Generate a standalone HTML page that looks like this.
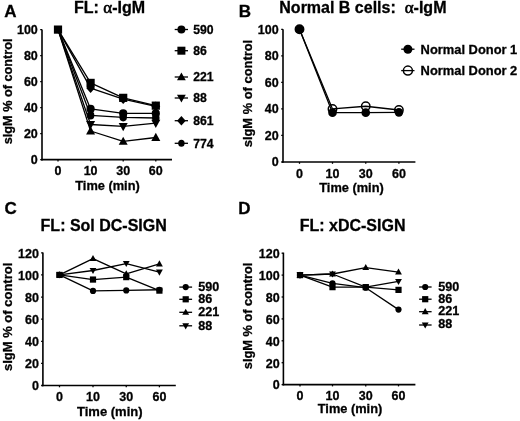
<!DOCTYPE html>
<html><head><meta charset="utf-8"><style>
html,body{margin:0;padding:0;background:#fff;}
svg{display:block;will-change:transform;font-family:"Liberation Sans", sans-serif;font-weight:bold;fill:#000;}
text{stroke:#000;stroke-width:0.3px;}
</style></head><body>
<svg width="520" height="421" viewBox="0 0 520 421">
<text x="4.3" y="16.8" font-size="17" text-anchor="start" >A</text>
<text x="109.6" y="13.3" font-size="16" text-anchor="middle" >FL: <tspan font-family="Liberation Serif" font-weight="normal" font-size="17" style="stroke-width:0.6px">α</tspan>-IgM</text>
<line x1="42" y1="29.4" x2="42" y2="160.4" stroke="#000" stroke-width="1.6"/>
<line x1="41.2" y1="159.6" x2="172" y2="159.6" stroke="#000" stroke-width="1.6"/>
<line x1="40.2" y1="29.599999999999994" x2="42" y2="29.599999999999994" stroke="#000" stroke-width="1.2800000000000002"/>
<text x="37.8" y="33.89999999999999" font-size="12.5" text-anchor="end" >100</text>
<line x1="40.2" y1="55.599999999999994" x2="42" y2="55.599999999999994" stroke="#000" stroke-width="1.2800000000000002"/>
<text x="37.8" y="59.89999999999999" font-size="12.5" text-anchor="end" >80</text>
<line x1="40.2" y1="81.6" x2="42" y2="81.6" stroke="#000" stroke-width="1.2800000000000002"/>
<text x="37.8" y="85.89999999999999" font-size="12.5" text-anchor="end" >60</text>
<line x1="40.2" y1="107.6" x2="42" y2="107.6" stroke="#000" stroke-width="1.2800000000000002"/>
<text x="37.8" y="111.89999999999999" font-size="12.5" text-anchor="end" >40</text>
<line x1="40.2" y1="133.6" x2="42" y2="133.6" stroke="#000" stroke-width="1.2800000000000002"/>
<text x="37.8" y="137.9" font-size="12.5" text-anchor="end" >20</text>
<line x1="40.2" y1="159.6" x2="42" y2="159.6" stroke="#000" stroke-width="1.2800000000000002"/>
<text x="37.8" y="163.9" font-size="12.5" text-anchor="end" >0</text>
<line x1="58" y1="159.6" x2="58" y2="161.4" stroke="#000" stroke-width="1.2800000000000002"/>
<text x="58" y="175.3" font-size="12.5" text-anchor="middle" >0</text>
<line x1="90.6" y1="159.6" x2="90.6" y2="161.4" stroke="#000" stroke-width="1.2800000000000002"/>
<text x="90.6" y="175.3" font-size="12.5" text-anchor="middle" >10</text>
<line x1="123.2" y1="159.6" x2="123.2" y2="161.4" stroke="#000" stroke-width="1.2800000000000002"/>
<text x="123.2" y="175.3" font-size="12.5" text-anchor="middle" >30</text>
<line x1="155.8" y1="159.6" x2="155.8" y2="161.4" stroke="#000" stroke-width="1.2800000000000002"/>
<text x="155.8" y="175.3" font-size="12.5" text-anchor="middle" >60</text>
<text x="107.5" y="190.3" font-size="12.8" text-anchor="middle" >Time (min)</text>
<text transform="translate(11.6,91.35) rotate(-90)" font-size="12.7" text-anchor="middle">sIgM % of control</text>
<polyline points="58.00,29.60 90.60,131.00 123.20,141.40 155.80,137.50" fill="none" stroke="#000" stroke-width="1.3" stroke-linejoin="round"/>
<polyline points="58.00,29.60 90.60,124.50 123.20,126.45 155.80,123.20" fill="none" stroke="#000" stroke-width="1.3" stroke-linejoin="round"/>
<polyline points="58.00,29.60 90.60,115.40 123.20,117.35 155.80,118.00" fill="none" stroke="#000" stroke-width="1.3" stroke-linejoin="round"/>
<polyline points="58.00,29.60 90.60,108.90 123.20,113.45 155.80,113.45" fill="none" stroke="#000" stroke-width="1.3" stroke-linejoin="round"/>
<polyline points="58.00,29.60 90.60,88.10 123.20,99.15 155.80,106.30" fill="none" stroke="#000" stroke-width="1.3" stroke-linejoin="round"/>
<polyline points="58.00,29.60 90.60,82.90 123.20,97.85 155.80,105.65" fill="none" stroke="#000" stroke-width="1.3" stroke-linejoin="round"/>
<polygon points="90.60,126.26 95.11,134.38 86.09,134.38" fill="#000"/>
<polygon points="123.20,136.66 127.71,144.78 118.69,144.78" fill="#000"/>
<polygon points="155.80,132.76 160.31,140.88 151.29,140.88" fill="#000"/>
<polygon points="90.60,129.24 95.11,121.12 86.09,121.12" fill="#000"/>
<polygon points="123.20,131.19 127.71,123.07 118.69,123.07" fill="#000"/>
<polygon points="155.80,127.94 160.31,119.82 151.29,119.82" fill="#000"/>
<ellipse cx="90.60" cy="115.40" rx="3.77" ry="4.10" fill="#000"/>
<ellipse cx="123.20" cy="117.35" rx="3.77" ry="4.10" fill="#000"/>
<ellipse cx="155.80" cy="118.00" rx="3.77" ry="4.10" fill="#000"/>
<circle cx="90.60" cy="108.90" r="4.10" fill="#000"/>
<circle cx="123.20" cy="113.45" r="4.10" fill="#000"/>
<circle cx="155.80" cy="113.45" r="4.10" fill="#000"/>
<polygon points="90.60,83.18 95.03,88.10 90.60,93.02 86.17,88.10" fill="#000"/>
<polygon points="123.20,94.23 127.63,99.15 123.20,104.07 118.77,99.15" fill="#000"/>
<polygon points="155.80,101.38 160.23,106.30 155.80,111.22 151.37,106.30" fill="#000"/>
<rect x="53.90" y="25.50" width="8.20" height="8.20" fill="#000"/>
<rect x="86.50" y="78.80" width="8.20" height="8.20" fill="#000"/>
<rect x="119.10" y="93.75" width="8.20" height="8.20" fill="#000"/>
<rect x="151.70" y="101.55" width="8.20" height="8.20" fill="#000"/>
<line x1="174.7" y1="29.5" x2="188" y2="29.5" stroke="#000" stroke-width="1.3"/>
<circle cx="181.40" cy="29.50" r="4.00" fill="#000"/>
<text x="193.3" y="33.8" font-size="12.2" text-anchor="start" >590</text>
<line x1="174.7" y1="50.7" x2="188" y2="50.7" stroke="#000" stroke-width="1.3"/>
<rect x="177.40" y="46.70" width="8.00" height="8.00" fill="#000"/>
<text x="193.3" y="55.0" font-size="12.2" text-anchor="start" >86</text>
<line x1="174.7" y1="77.0" x2="188" y2="77.0" stroke="#000" stroke-width="1.3"/>
<polygon points="181.40,72.38 185.80,80.30 177.00,80.30" fill="#000"/>
<text x="193.3" y="81.3" font-size="12.2" text-anchor="start" >221</text>
<line x1="174.7" y1="98.0" x2="188" y2="98.0" stroke="#000" stroke-width="1.3"/>
<polygon points="181.40,102.62 185.80,94.70 177.00,94.70" fill="#000"/>
<text x="193.3" y="102.3" font-size="12.2" text-anchor="start" >88</text>
<line x1="174.7" y1="120.7" x2="188" y2="120.7" stroke="#000" stroke-width="1.3"/>
<polygon points="181.40,115.90 185.72,120.70 181.40,125.50 177.08,120.70" fill="#000"/>
<text x="193.3" y="125.0" font-size="12.2" text-anchor="start" >861</text>
<line x1="174.7" y1="143.3" x2="188" y2="143.3" stroke="#000" stroke-width="1.3"/>
<ellipse cx="181.40" cy="143.30" rx="3.22" ry="3.50" fill="#000"/>
<text x="193.3" y="147.60000000000002" font-size="12.2" text-anchor="start" >774</text>
<text x="238.7" y="16.8" font-size="17" text-anchor="start" >B</text>
<text x="279.3" y="13.4" font-size="16" text-anchor="start" >Normal B cells:&#160; <tspan font-family="Liberation Serif" font-weight="normal" font-size="17" style="stroke-width:0.6px">α</tspan>-IgM</text>
<line x1="283" y1="29.2" x2="283" y2="162.8" stroke="#000" stroke-width="1.6"/>
<line x1="282.2" y1="162" x2="415.4" y2="162" stroke="#000" stroke-width="1.6"/>
<line x1="281.2" y1="29.30000000000001" x2="283" y2="29.30000000000001" stroke="#000" stroke-width="1.2800000000000002"/>
<text x="278.6" y="33.60000000000001" font-size="12.5" text-anchor="end" >100</text>
<line x1="281.2" y1="55.84" x2="283" y2="55.84" stroke="#000" stroke-width="1.2800000000000002"/>
<text x="278.6" y="60.14" font-size="12.5" text-anchor="end" >80</text>
<line x1="281.2" y1="82.38" x2="283" y2="82.38" stroke="#000" stroke-width="1.2800000000000002"/>
<text x="278.6" y="86.67999999999999" font-size="12.5" text-anchor="end" >60</text>
<line x1="281.2" y1="108.92" x2="283" y2="108.92" stroke="#000" stroke-width="1.2800000000000002"/>
<text x="278.6" y="113.22" font-size="12.5" text-anchor="end" >40</text>
<line x1="281.2" y1="135.46" x2="283" y2="135.46" stroke="#000" stroke-width="1.2800000000000002"/>
<text x="278.6" y="139.76000000000002" font-size="12.5" text-anchor="end" >20</text>
<line x1="281.2" y1="162.0" x2="283" y2="162.0" stroke="#000" stroke-width="1.2800000000000002"/>
<text x="278.6" y="166.3" font-size="12.5" text-anchor="end" >0</text>
<line x1="299.5" y1="162" x2="299.5" y2="163.8" stroke="#000" stroke-width="1.2800000000000002"/>
<text x="299.5" y="177.6" font-size="12.5" text-anchor="middle" >0</text>
<line x1="332.5" y1="162" x2="332.5" y2="163.8" stroke="#000" stroke-width="1.2800000000000002"/>
<text x="332.5" y="177.6" font-size="12.5" text-anchor="middle" >10</text>
<line x1="365.75" y1="162" x2="365.75" y2="163.8" stroke="#000" stroke-width="1.2800000000000002"/>
<text x="365.75" y="177.6" font-size="12.5" text-anchor="middle" >30</text>
<line x1="398.9" y1="162" x2="398.9" y2="163.8" stroke="#000" stroke-width="1.2800000000000002"/>
<text x="398.9" y="177.6" font-size="12.5" text-anchor="middle" >60</text>
<text x="351.5" y="192.1" font-size="12.8" text-anchor="middle" >Time (min)</text>
<text transform="translate(252.4,93.55) rotate(-90)" font-size="12.9" text-anchor="middle">sIgM % of control</text>
<polyline points="299.50,29.30 332.50,108.92 365.75,106.27 398.90,109.98" fill="none" stroke="#000" stroke-width="1.3" stroke-linejoin="round"/>
<polyline points="299.50,29.30 332.50,112.64 365.75,112.64 398.90,112.37" fill="none" stroke="#000" stroke-width="1.3" stroke-linejoin="round"/>
<circle cx="299.50" cy="29.30" r="4.20" fill="none" stroke="#000" stroke-width="1.5"/>
<circle cx="332.50" cy="108.92" r="4.20" fill="none" stroke="#000" stroke-width="1.5"/>
<circle cx="365.75" cy="106.27" r="4.20" fill="none" stroke="#000" stroke-width="1.5"/>
<circle cx="398.90" cy="109.98" r="4.20" fill="none" stroke="#000" stroke-width="1.5"/>
<circle cx="299.50" cy="29.30" r="4.30" fill="#000"/>
<circle cx="332.50" cy="112.64" r="4.30" fill="#000"/>
<circle cx="365.75" cy="112.64" r="4.30" fill="#000"/>
<circle cx="398.90" cy="112.37" r="4.30" fill="#000"/>
<line x1="401.2" y1="49.2" x2="414.5" y2="49.2" stroke="#000" stroke-width="1.3"/>
<circle cx="407.90" cy="49.20" r="4.50" fill="#000"/>
<text x="420.6" y="53.7" font-size="12.9" text-anchor="start" >Normal Donor 1</text>
<line x1="401.2" y1="70.6" x2="414.5" y2="70.6" stroke="#000" stroke-width="1.3"/>
<circle cx="407.90" cy="70.60" r="4.50" fill="none" stroke="#000" stroke-width="1.5"/>
<text x="420.6" y="75.1" font-size="12.9" text-anchor="start" >Normal Donor 2</text>
<text x="4.5" y="213.8" font-size="17" text-anchor="start" >C</text>
<text x="103.7" y="230.7" font-size="16" text-anchor="middle" >FL: Sol DC-SIGN</text>
<line x1="42.9" y1="252.6" x2="42.9" y2="386.3" stroke="#000" stroke-width="1.6"/>
<line x1="42.1" y1="385.5" x2="175.8" y2="385.5" stroke="#000" stroke-width="1.6"/>
<line x1="41.1" y1="252.804" x2="42.9" y2="252.804" stroke="#000" stroke-width="1.2800000000000002"/>
<text x="38.9" y="257.604" font-size="12.5" text-anchor="end" >120</text>
<line x1="41.1" y1="274.92" x2="42.9" y2="274.92" stroke="#000" stroke-width="1.2800000000000002"/>
<text x="38.9" y="279.72" font-size="12.5" text-anchor="end" >100</text>
<line x1="41.1" y1="297.036" x2="42.9" y2="297.036" stroke="#000" stroke-width="1.2800000000000002"/>
<text x="38.9" y="301.836" font-size="12.5" text-anchor="end" >80</text>
<line x1="41.1" y1="319.152" x2="42.9" y2="319.152" stroke="#000" stroke-width="1.2800000000000002"/>
<text x="38.9" y="323.952" font-size="12.5" text-anchor="end" >60</text>
<line x1="41.1" y1="341.26800000000003" x2="42.9" y2="341.26800000000003" stroke="#000" stroke-width="1.2800000000000002"/>
<text x="38.9" y="346.06800000000004" font-size="12.5" text-anchor="end" >40</text>
<line x1="41.1" y1="363.384" x2="42.9" y2="363.384" stroke="#000" stroke-width="1.2800000000000002"/>
<text x="38.9" y="368.184" font-size="12.5" text-anchor="end" >20</text>
<line x1="41.1" y1="385.5" x2="42.9" y2="385.5" stroke="#000" stroke-width="1.2800000000000002"/>
<text x="38.9" y="390.3" font-size="12.5" text-anchor="end" >0</text>
<line x1="59.5" y1="385.5" x2="59.5" y2="387.3" stroke="#000" stroke-width="1.2800000000000002"/>
<text x="59.5" y="401.3" font-size="12.5" text-anchor="middle" >0</text>
<line x1="93" y1="385.5" x2="93" y2="387.3" stroke="#000" stroke-width="1.2800000000000002"/>
<text x="93" y="401.3" font-size="12.5" text-anchor="middle" >10</text>
<line x1="126.25" y1="385.5" x2="126.25" y2="387.3" stroke="#000" stroke-width="1.2800000000000002"/>
<text x="126.25" y="401.3" font-size="12.5" text-anchor="middle" >30</text>
<line x1="159.4" y1="385.5" x2="159.4" y2="387.3" stroke="#000" stroke-width="1.2800000000000002"/>
<text x="159.4" y="401.3" font-size="12.5" text-anchor="middle" >60</text>
<text x="109.8" y="415.8" font-size="13" text-anchor="middle" >Time (min)</text>
<text transform="translate(11.5,316.9) rotate(-90)" font-size="13" text-anchor="middle">sIgM % of control</text>
<polyline points="59.50,274.92 93.00,279.56 126.25,277.13 159.40,290.62" fill="none" stroke="#000" stroke-width="1.3" stroke-linejoin="round"/>
<polyline points="59.50,274.92 93.00,290.95 126.25,290.40 159.40,289.74" fill="none" stroke="#000" stroke-width="1.3" stroke-linejoin="round"/>
<polyline points="59.50,274.92 93.00,258.55 126.25,273.81 159.40,263.86" fill="none" stroke="#000" stroke-width="1.3" stroke-linejoin="round"/>
<polyline points="59.50,274.92 93.00,270.50 126.25,263.53 159.40,272.16" fill="none" stroke="#000" stroke-width="1.3" stroke-linejoin="round"/>
<rect x="56.40" y="271.82" width="6.20" height="6.20" fill="#000"/>
<rect x="89.90" y="276.46" width="6.20" height="6.20" fill="#000"/>
<rect x="123.15" y="274.03" width="6.20" height="6.20" fill="#000"/>
<rect x="156.30" y="287.52" width="6.20" height="6.20" fill="#000"/>
<circle cx="59.50" cy="274.92" r="3.10" fill="#000"/>
<circle cx="93.00" cy="290.95" r="3.10" fill="#000"/>
<circle cx="126.25" cy="290.40" r="3.10" fill="#000"/>
<circle cx="159.40" cy="289.74" r="3.10" fill="#000"/>
<polygon points="59.50,271.34 62.91,277.48 56.09,277.48" fill="#000"/>
<polygon points="93.00,254.97 96.41,261.11 89.59,261.11" fill="#000"/>
<polygon points="126.25,270.23 129.66,276.37 122.84,276.37" fill="#000"/>
<polygon points="159.40,260.28 162.81,266.42 155.99,266.42" fill="#000"/>
<polygon points="59.50,278.50 62.91,272.36 56.09,272.36" fill="#000"/>
<polygon points="93.00,274.08 96.41,267.94 89.59,267.94" fill="#000"/>
<polygon points="126.25,267.11 129.66,260.97 122.84,260.97" fill="#000"/>
<polygon points="159.40,275.74 162.81,269.60 155.99,269.60" fill="#000"/>
<line x1="179.3" y1="287.1" x2="192.1" y2="287.1" stroke="#000" stroke-width="1.3"/>
<circle cx="185.70" cy="287.10" r="3.10" fill="#000"/>
<text x="198.2" y="291.1" font-size="12.6" text-anchor="start" >590</text>
<line x1="179.3" y1="299.3" x2="192.1" y2="299.3" stroke="#000" stroke-width="1.3"/>
<rect x="182.60" y="296.20" width="6.20" height="6.20" fill="#000"/>
<text x="198.2" y="303.3" font-size="12.6" text-anchor="start" >86</text>
<line x1="179.3" y1="312.3" x2="192.1" y2="312.3" stroke="#000" stroke-width="1.3"/>
<polygon points="185.70,308.72 189.11,314.86 182.29,314.86" fill="#000"/>
<text x="198.2" y="316.1" font-size="12.6" text-anchor="start" >221</text>
<line x1="179.3" y1="325.8" x2="192.1" y2="325.8" stroke="#000" stroke-width="1.3"/>
<polygon points="185.70,329.38 189.11,323.24 182.29,323.24" fill="#000"/>
<text x="198.2" y="329.7" font-size="12.6" text-anchor="start" >88</text>
<text x="238.2" y="213.8" font-size="17" text-anchor="start" >D</text>
<text x="352.6" y="231.0" font-size="16" text-anchor="middle" >FL: xDC-SIGN</text>
<line x1="283.4" y1="252.6" x2="283.4" y2="385.40000000000003" stroke="#000" stroke-width="1.6"/>
<line x1="282.59999999999997" y1="384.6" x2="415.4" y2="384.6" stroke="#000" stroke-width="1.6"/>
<line x1="281.59999999999997" y1="253.20000000000002" x2="283.4" y2="253.20000000000002" stroke="#000" stroke-width="1.2800000000000002"/>
<text x="279.7" y="258.0" font-size="12.5" text-anchor="end" >120</text>
<line x1="281.59999999999997" y1="275.1" x2="283.4" y2="275.1" stroke="#000" stroke-width="1.2800000000000002"/>
<text x="279.7" y="279.90000000000003" font-size="12.5" text-anchor="end" >100</text>
<line x1="281.59999999999997" y1="297.0" x2="283.4" y2="297.0" stroke="#000" stroke-width="1.2800000000000002"/>
<text x="279.7" y="301.8" font-size="12.5" text-anchor="end" >80</text>
<line x1="281.59999999999997" y1="318.90000000000003" x2="283.4" y2="318.90000000000003" stroke="#000" stroke-width="1.2800000000000002"/>
<text x="279.7" y="323.70000000000005" font-size="12.5" text-anchor="end" >60</text>
<line x1="281.59999999999997" y1="340.8" x2="283.4" y2="340.8" stroke="#000" stroke-width="1.2800000000000002"/>
<text x="279.7" y="345.6" font-size="12.5" text-anchor="end" >40</text>
<line x1="281.59999999999997" y1="362.70000000000005" x2="283.4" y2="362.70000000000005" stroke="#000" stroke-width="1.2800000000000002"/>
<text x="279.7" y="367.50000000000006" font-size="12.5" text-anchor="end" >20</text>
<line x1="281.59999999999997" y1="384.6" x2="283.4" y2="384.6" stroke="#000" stroke-width="1.2800000000000002"/>
<text x="279.7" y="389.40000000000003" font-size="12.5" text-anchor="end" >0</text>
<line x1="300" y1="384.6" x2="300" y2="386.40000000000003" stroke="#000" stroke-width="1.2800000000000002"/>
<text x="300" y="400.0" font-size="12.5" text-anchor="middle" >0</text>
<line x1="332.5" y1="384.6" x2="332.5" y2="386.40000000000003" stroke="#000" stroke-width="1.2800000000000002"/>
<text x="332.5" y="400.0" font-size="12.5" text-anchor="middle" >10</text>
<line x1="365.75" y1="384.6" x2="365.75" y2="386.40000000000003" stroke="#000" stroke-width="1.2800000000000002"/>
<text x="365.75" y="400.0" font-size="12.5" text-anchor="middle" >30</text>
<line x1="398.5" y1="384.6" x2="398.5" y2="386.40000000000003" stroke="#000" stroke-width="1.2800000000000002"/>
<text x="398.5" y="400.0" font-size="12.5" text-anchor="middle" >60</text>
<text x="350.0" y="413.4" font-size="12.8" text-anchor="middle" >Time (min)</text>
<text transform="translate(252.1,315.9) rotate(-90)" font-size="12.8" text-anchor="middle">sIgM % of control</text>
<polyline points="300.00,275.10 332.50,283.31 365.75,287.69 398.50,309.59" fill="none" stroke="#000" stroke-width="1.3" stroke-linejoin="round"/>
<polyline points="300.00,275.10 332.50,287.15 365.75,287.15 398.50,289.88" fill="none" stroke="#000" stroke-width="1.3" stroke-linejoin="round"/>
<polyline points="300.00,275.10 332.50,274.00 365.75,267.54 398.50,272.03" fill="none" stroke="#000" stroke-width="1.3" stroke-linejoin="round"/>
<polyline points="300.00,275.10 332.50,274.00 365.75,287.15 398.50,281.45" fill="none" stroke="#000" stroke-width="1.3" stroke-linejoin="round"/>
<circle cx="300.00" cy="275.10" r="3.10" fill="#000"/>
<circle cx="332.50" cy="283.31" r="3.10" fill="#000"/>
<circle cx="365.75" cy="287.69" r="3.10" fill="#000"/>
<circle cx="398.50" cy="309.59" r="3.10" fill="#000"/>
<rect x="296.90" y="272.00" width="6.20" height="6.20" fill="#000"/>
<rect x="329.40" y="284.05" width="6.20" height="6.20" fill="#000"/>
<rect x="362.65" y="284.05" width="6.20" height="6.20" fill="#000"/>
<rect x="395.40" y="286.78" width="6.20" height="6.20" fill="#000"/>
<polygon points="300.00,271.52 303.41,277.66 296.59,277.66" fill="#000"/>
<polygon points="332.50,270.42 335.91,276.56 329.09,276.56" fill="#000"/>
<polygon points="365.75,263.96 369.16,270.10 362.34,270.10" fill="#000"/>
<polygon points="398.50,268.45 401.91,274.59 395.09,274.59" fill="#000"/>
<polygon points="300.00,278.68 303.41,272.54 296.59,272.54" fill="#000"/>
<polygon points="332.50,277.59 335.91,271.45 329.09,271.45" fill="#000"/>
<polygon points="365.75,290.73 369.16,284.59 362.34,284.59" fill="#000"/>
<polygon points="398.50,285.03 401.91,278.89 395.09,278.89" fill="#000"/>
<line x1="419.1" y1="287.0" x2="431.6" y2="287.0" stroke="#000" stroke-width="1.3"/>
<circle cx="425.20" cy="287.00" r="3.10" fill="#000"/>
<text x="438.2" y="291.2" font-size="12.6" text-anchor="start" >590</text>
<line x1="419.1" y1="299.2" x2="431.6" y2="299.2" stroke="#000" stroke-width="1.3"/>
<rect x="422.10" y="296.10" width="6.20" height="6.20" fill="#000"/>
<text x="438.2" y="302.9" font-size="12.6" text-anchor="start" >86</text>
<line x1="419.1" y1="311.7" x2="431.6" y2="311.7" stroke="#000" stroke-width="1.3"/>
<polygon points="425.20,308.12 428.61,314.26 421.79,314.26" fill="#000"/>
<text x="438.2" y="315.2" font-size="12.6" text-anchor="start" >221</text>
<line x1="419.1" y1="325.0" x2="431.6" y2="325.0" stroke="#000" stroke-width="1.3"/>
<polygon points="425.20,328.58 428.61,322.44 421.79,322.44" fill="#000"/>
<text x="438.2" y="328.0" font-size="12.6" text-anchor="start" >88</text>
</svg>
</body></html>
